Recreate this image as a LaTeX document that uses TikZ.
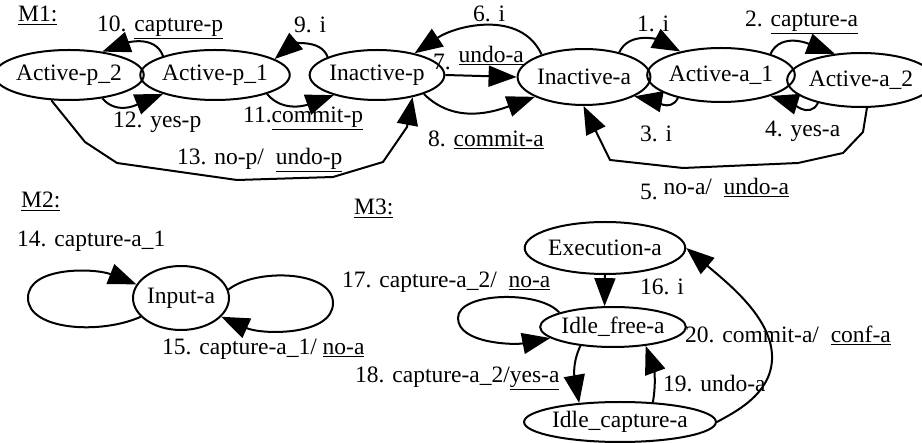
\documentclass[tikz,border=0pt]{standalone}
\usepackage{fontspec}
\setmainfont{Liberation Serif}
\usetikzlibrary{shapes.geometric,arrows.meta}

\tikzset{
	statenode/.style={ellipse, draw, line width=2pt, inner sep=0pt},
	trans/.style={line width=2pt, -{Triangle[length=28pt,width=21pt]}},
	lbl/.style={anchor=base west, inner sep=0pt}
}

\begin{document}
\begin{tikzpicture}[x=1pt, y=1pt, font=\fontsize{23.5}{28}\selectfont]
			%%%%% START %%%%%
			\useasboundingbox (0,0) rectangle (922,-443);
			
			% M1
			\node[statenode, minimum width=120pt, minimum height=50pt] (ap2) at (69,-75) {Active-p\_2};
			\node[statenode, minimum width=124pt, minimum height=50pt] (ap1) at (215,-75) {Active-p\_1};
			\node[statenode, minimum width=124pt, minimum height=50pt] (ip) at (377,-75) {Inactive-p};
			\node[statenode, minimum width=120pt, minimum height=56pt] (ia) at (584,-77) {Inactive-a};
			\node[statenode, minimum width=118pt, minimum height=54pt] (aa1) at (721,-75) {Active-a\_1};
			\node[statenode, minimum width=118pt, minimum height=54pt] (aa2) at (861,-80) {Active-a\_2};
			
			\draw[trans] (ap1.160) to[out=110, in=20] (ap2.35);
			\draw[trans] (ap2.-35) to[out=-50, in=202] (ap1.200);
			\draw[trans] (ip.160) to[out=110, in=40] (ap1.15);
			\draw[trans] (ap1.-20) to[out=-50, in=200] (ip.205);
			\draw[trans] (ia.152) to[out=115, in=34] (ip.30);
			\draw[trans] (ip.east) -- (ia.west);
			\draw[trans] (ip.-22) to[out=-45, in=200] (ia.202);
			\draw[trans] (ap2.-125) -- (85,-142) -- (117,-163) -- (237,-180) -- (333,-177) -- (383,-162) -- (407,-127) -- (ip.-32);
			\draw[trans] (ia.35) to[out=65, in=152] (aa1.150);
			\draw[trans] (aa1.208) to[out=-115, in=-11] (ia.-21);
			\draw[trans] (aa1.23) to[out=65, in=159] (aa2.135);
			\draw[trans] (aa2.208) to[out=-115, in=-17] (aa1.-23);
			\draw[trans] (aa2.-78) -- (863,-132) -- (843,-153) -- (798,-163) -- (683,-168) -- (610,-160) -- (ia.-91);
			
			\node[lbl] (m1) at (18,-22) {\underline{M1:}};
			\node[lbl] (l10) at (97,-32) {10. \underline{capture-p}};
			\node[lbl] (l9) at (294,-33) {9. i};
			\node[lbl] (l6) at (473,-22) {6. i};
			\node[lbl] (l7) at (433,-70) {7. \raisebox{7pt}{\underline{undo-a}}};
			\node[lbl] (l8) at (428,-147) {8. \underline{commit-a}};
			\node[lbl] (l11) at (243,-123) {11.\underline{commit-p}};
			\node[lbl] (l12) at (113,-128) {12. yes-p};
			\node[lbl] (l13) at (177,-165) {13. no-p/\ \ \underline{undo-p}};
			\node[lbl] (l1) at (637,-32) {1. i};
			\node[lbl] (l2) at (745,-27) {2. \underline{capture-a}};
			\node[lbl] (l3) at (640,-142) {3. i};
			\node[lbl] (l4) at (765,-137) {4. yes-a};
			\node[lbl] (l5) at (640,-200) {5.\ \raisebox{5pt}{no-a/\ \ \underline{undo-a}}};
			
			% M2
			\node[statenode, minimum width=92pt, minimum height=64pt] (inp) at (181,-298) {Input-a};
			
			\draw[trans] (inp.205) .. controls (100,-335) and (28,-330) .. (28,-298) .. controls (28,-266) and (95,-268) .. (inp.163);
			\draw[trans] (inp.10) .. controls (255,-268) and (333,-270) .. (333,-303) .. controls (333,-336) and (262,-335) .. (inp.-25);
			
			\node[lbl] (m2) at (21,-208) {\underline{M2:}};
			\node[lbl] (l14) at (17,-247) {14. capture-a\_1};
			\node[lbl] (l15) at (162,-355) {15. capture-a\_1/ \underline{no-a}};
			
			% M3
			\node[statenode, minimum width=134pt, minimum height=52pt] (ex) at (605,-248) {Execution-a};
			\node[statenode, minimum width=122pt, minimum height=40pt] (idf) at (613,-327) {Idle\_free-a};
			\node[statenode, minimum width=146pt, minimum height=40pt] (idc) at (620,-422) {Idle\_capture-a};
			
			\draw[trans] (ex.south) -- (idf.112);
			\draw[trans] (idf.165) .. controls (540,-290) and (458,-292) .. (458,-318) .. controls (458,-344) and (515,-345) .. (idf.190);
			\draw[trans] (idf.210) to[out=-115, in=100] (idc.155);
			\draw[trans] (idc.31) to[out=80, in=-70] (idf.-30);
			\draw[trans] (idc.east) .. controls (735,-412) and (770,-395) .. (772,-360) .. controls (774,-320) and (730,-285) .. (ex.east);
			
			\node[lbl] (m3) at (354,-215) {\underline{M3:}};
			\node[lbl] (l17) at (342,-288) {17. capture-a\_2/\ \ \underline{no-a}};
			\node[lbl] (l16) at (640,-295) {16. i};
			\node[lbl] (l18) at (355,-383) {18. capture-a\_2/\underline{yes-a}};
			\node[lbl] (l19) at (663,-392) {19. undo-a};
			\node[lbl] (l20) at (685,-343) {20. commit-a/\ \ \underline{conf-a}};
			
			%%%%% END %%%%%
\end{tikzpicture}
\end{document}
